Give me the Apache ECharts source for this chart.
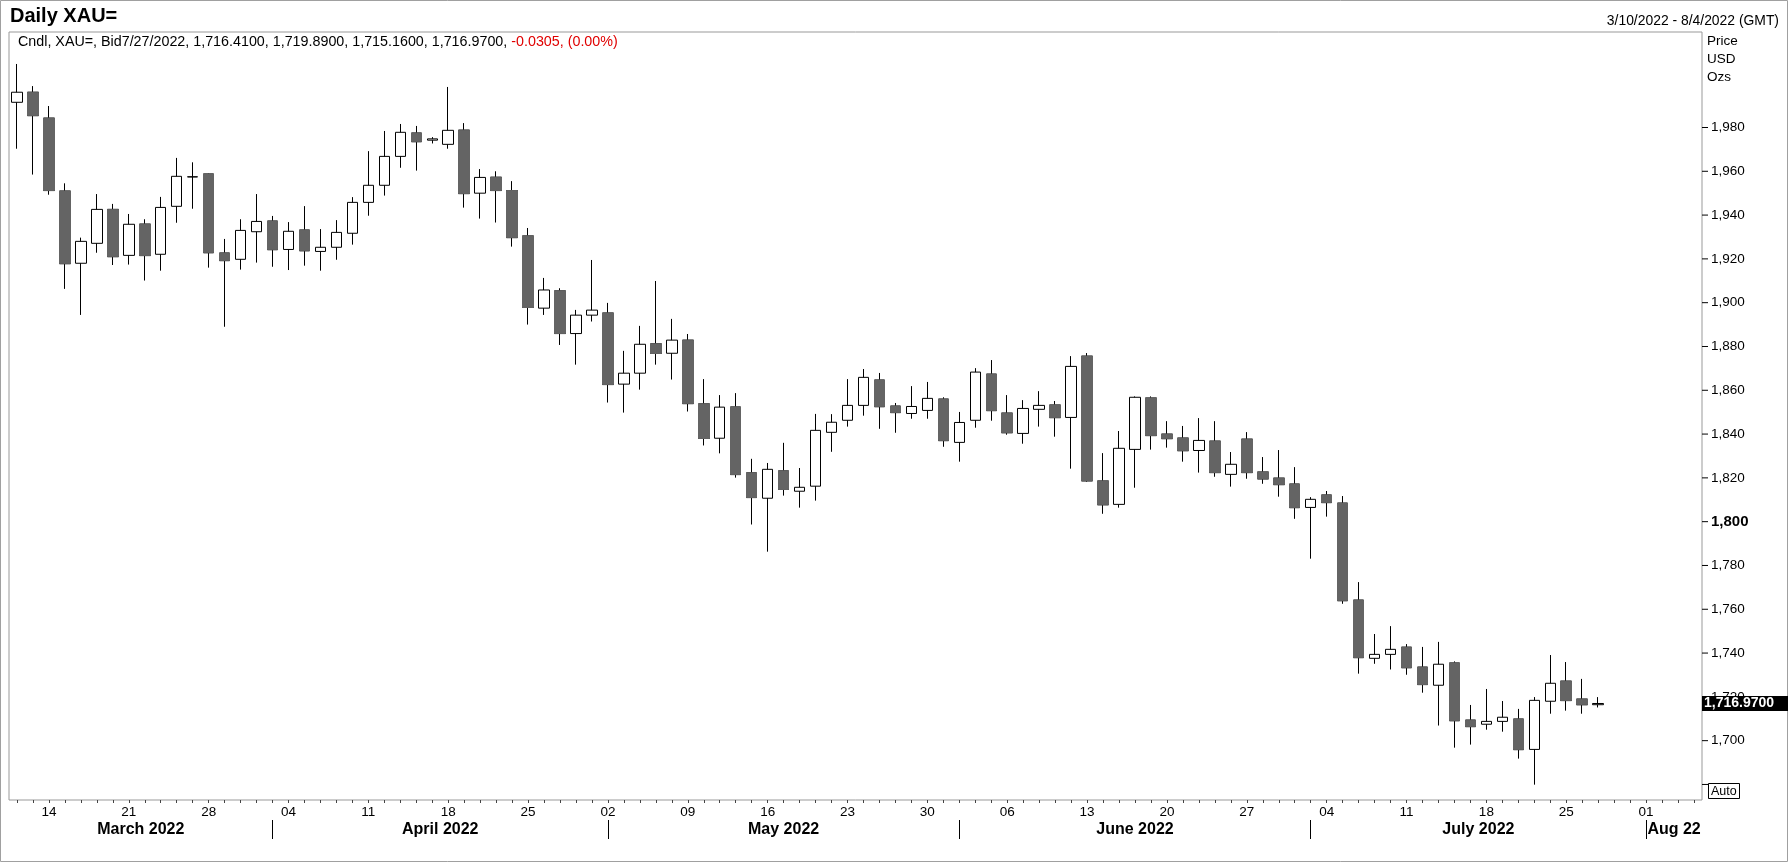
<!DOCTYPE html>
<html>

<head>
    <meta charset="utf-8">
    <title>Daily XAU=</title>
    <script src="https://cdn.jsdelivr.net/npm/echarts@6.0.0/dist/echarts.min.js"></script>
    <style>
        html, body { margin: 0; padding: 0; background: #fff; }
        #main { width: 1788px; height: 862px; }
    </style>
</head>

<body>
    <div id="main"></div>
</body>
<script>
    // trading days on the axis (data runs to 7/27, axis to 8/4)
    var dates = [
        '2022-03-10', '2022-03-11',
        '2022-03-14', '2022-03-15', '2022-03-16', '2022-03-17', '2022-03-18',
        '2022-03-21', '2022-03-22', '2022-03-23', '2022-03-24', '2022-03-25',
        '2022-03-28', '2022-03-29', '2022-03-30', '2022-03-31', '2022-04-01',
        '2022-04-04', '2022-04-05', '2022-04-06', '2022-04-07', '2022-04-08',
        '2022-04-11', '2022-04-12', '2022-04-13', '2022-04-14', '2022-04-15',
        '2022-04-18', '2022-04-19', '2022-04-20', '2022-04-21', '2022-04-22',
        '2022-04-25', '2022-04-26', '2022-04-27', '2022-04-28', '2022-04-29',
        '2022-05-02', '2022-05-03', '2022-05-04', '2022-05-05', '2022-05-06',
        '2022-05-09', '2022-05-10', '2022-05-11', '2022-05-12', '2022-05-13',
        '2022-05-16', '2022-05-17', '2022-05-18', '2022-05-19', '2022-05-20',
        '2022-05-23', '2022-05-24', '2022-05-25', '2022-05-26', '2022-05-27',
        '2022-05-30', '2022-05-31', '2022-06-01', '2022-06-02', '2022-06-03',
        '2022-06-06', '2022-06-07', '2022-06-08', '2022-06-09', '2022-06-10',
        '2022-06-13', '2022-06-14', '2022-06-15', '2022-06-16', '2022-06-17',
        '2022-06-20', '2022-06-21', '2022-06-22', '2022-06-23', '2022-06-24',
        '2022-06-27', '2022-06-28', '2022-06-29', '2022-06-30', '2022-07-01',
        '2022-07-04', '2022-07-05', '2022-07-06', '2022-07-07', '2022-07-08',
        '2022-07-11', '2022-07-12', '2022-07-13', '2022-07-14', '2022-07-15',
        '2022-07-18', '2022-07-19', '2022-07-20', '2022-07-21', '2022-07-22',
        '2022-07-25', '2022-07-26', '2022-07-27', '2022-07-28', '2022-07-29',
        '2022-08-01', '2022-08-02', '2022-08-03', '2022-08-04'
    ];

    var opens = [
        1991.5, 1996.1,
        1984.3, 1951.0, 1918.0, 1927.1, 1942.6,
        1921.6, 1935.9, 1922.1, 1944.0, 1957.4,
        1958.8, 1922.7, 1919.8, 1932.4, 1937.3,
        1924.3, 1933.2, 1923.4, 1925.3, 1931.7,
        1945.8, 1953.6, 1966.8, 1977.5, 1974.2,
        1972.3, 1978.8, 1950.0, 1957.3, 1951.2,
        1930.5, 1897.5, 1905.4, 1885.9, 1894.3,
        1895.3, 1862.8, 1867.8, 1881.2, 1876.9,
        1882.9, 1853.8, 1838.1, 1852.4, 1822.3,
        1810.7, 1823.2, 1813.9, 1816.2, 1840.8,
        1846.3, 1853.1, 1864.7, 1852.8, 1849.4,
        1850.8, 1856.0, 1836.2, 1846.3, 1867.4,
        1849.6, 1840.3, 1851.3, 1853.3, 1847.6,
        1875.6, 1818.6, 1807.9, 1833.0, 1856.5,
        1840.0, 1838.2, 1832.5, 1836.8, 1821.6,
        1837.7, 1822.7, 1819.9, 1817.2, 1806.5,
        1812.2, 1808.5, 1764.2, 1737.6, 1739.4,
        1742.7, 1733.6, 1725.3, 1735.5, 1709.4,
        1707.5, 1708.8, 1709.9, 1696.0, 1718.0,
        1727.2, 1719.0, 1716.41
    ];

    var highs = [
        2009.0, 1998.9,
        1989.8, 1954.5, 1929.7, 1949.6, 1945.1,
        1940.5, 1938.1, 1948.3, 1966.1, 1964.1,
        1959.0, 1929.1, 1938.1, 1949.6, 1939.6,
        1936.8, 1944.1, 1933.6, 1937.7, 1948.2,
        1969.2, 1978.4, 1981.6, 1980.7, 1975.6,
        1998.5, 1982.0, 1961.0, 1960.0, 1955.5,
        1934.1, 1911.3, 1906.6, 1896.7, 1919.5,
        1899.9, 1878.0, 1889.4, 1909.9, 1892.6,
        1885.7, 1865.1, 1857.8, 1858.7, 1828.7,
        1826.8, 1836.0, 1824.5, 1849.2, 1849.1,
        1865.1, 1869.7, 1867.9, 1854.2, 1861.9,
        1863.8, 1856.8, 1850.1, 1870.1, 1873.8,
        1857.8, 1855.5, 1859.6, 1855.1, 1875.6,
        1877.0, 1831.3, 1841.4, 1857.2, 1857.2,
        1845.9, 1843.7, 1847.3, 1845.9, 1831.8,
        1840.9, 1829.5, 1832.7, 1824.9, 1811.2,
        1814.0, 1811.7, 1772.4, 1748.7, 1752.3,
        1744.1, 1742.8, 1745.1, 1736.2, 1716.3,
        1723.6, 1718.1, 1714.5, 1719.9, 1739.1,
        1735.9, 1728.2, 1719.89
    ];

    var lows = [
        1970.3, 1958.5,
        1949.3, 1906.3, 1894.4, 1922.8, 1917.2,
        1917.4, 1910.1, 1914.6, 1936.5, 1942.9,
        1916.0, 1889.0, 1915.1, 1918.3, 1916.4,
        1914.9, 1916.9, 1914.6, 1919.6, 1926.5,
        1939.7, 1948.9, 1961.6, 1960.3, 1972.7,
        1970.3, 1943.4, 1938.4, 1936.6, 1925.6,
        1890.0, 1894.4, 1880.7, 1871.7, 1891.4,
        1854.4, 1849.8, 1860.3, 1871.7, 1864.9,
        1850.3, 1834.8, 1831.2, 1820.1, 1798.7,
        1786.3, 1811.9, 1806.4, 1809.6, 1831.9,
        1843.4, 1848.4, 1842.4, 1840.6, 1847.0,
        1847.0, 1834.2, 1827.4, 1842.9, 1846.1,
        1839.7, 1835.6, 1843.4, 1838.8, 1824.2,
        1818.2, 1803.6, 1806.4, 1815.5, 1832.9,
        1833.8, 1827.4, 1822.4, 1820.5, 1816.0,
        1819.6, 1817.3, 1811.4, 1801.3, 1783.1,
        1802.3, 1762.5, 1730.6, 1735.1, 1732.5,
        1730.1, 1721.9, 1706.9, 1696.8, 1698.2,
        1705.0, 1704.1, 1691.8, 1679.9, 1712.3,
        1713.7, 1712.3, 1715.16
    ];

    var closes = [
        1996.1, 1985.4,
        1951.2, 1917.8, 1928.0, 1942.6, 1921.0,
        1935.8, 1921.5, 1943.5, 1957.7, 1957.5,
        1922.8, 1919.2, 1933.0, 1937.1, 1924.2,
        1932.6, 1923.7, 1925.3, 1932.1, 1945.8,
        1953.6, 1966.8, 1977.8, 1973.5, 1974.8,
        1978.7, 1949.8, 1957.2, 1951.2, 1929.7,
        1897.8, 1905.8, 1885.9, 1894.3, 1896.6,
        1862.6, 1867.8, 1881.0, 1876.8, 1882.9,
        1853.9, 1838.0, 1852.3, 1821.5, 1811.0,
        1823.9, 1814.7, 1815.7, 1841.7, 1845.4,
        1853.1, 1865.9, 1852.5, 1849.8, 1852.6,
        1856.3, 1837.0, 1845.3, 1868.3, 1850.7,
        1840.6, 1851.7, 1853.1, 1847.5, 1870.9,
        1818.6, 1807.7, 1833.5, 1856.8, 1839.3,
        1837.9, 1832.4, 1837.1, 1822.4, 1826.2,
        1822.4, 1819.5, 1816.9, 1806.4, 1810.2,
        1808.7, 1763.9, 1737.9, 1739.4, 1741.7,
        1733.3, 1725.6, 1734.9, 1709.1, 1706.4,
        1708.8, 1710.7, 1695.9, 1718.4, 1726.2,
        1718.3, 1716.4, 1716.97
    ];

    // bottom axis: weekly labels (Mondays) and month bands
    var weekTicks = [
        '2022-03-14', '2022-03-21', '2022-03-28', '2022-04-04', '2022-04-11',
        '2022-04-18', '2022-04-25', '2022-05-02', '2022-05-09', '2022-05-16',
        '2022-05-23', '2022-05-30', '2022-06-06', '2022-06-13', '2022-06-20',
        '2022-06-27', '2022-07-04', '2022-07-11', '2022-07-18', '2022-07-25',
        '2022-08-01'
    ];
    var monthStarts = ['2022-04-01', '2022-05-02', '2022-06-01', '2022-07-01', '2022-08-01'];
    var monthNames = ['March 2022', 'April 2022', 'May 2022', 'June 2022', 'July 2022', 'Aug 22'];

    // price axis: 1680 gets a tick mark only (the Auto button sits there)
    var priceTicks = [1680, 1700, 1720, 1740, 1760, 1780, 1800, 1820, 1840, 1860, 1880, 1900, 1920, 1940, 1960, 1980];
    var priceLabels = [1700, 1720, 1740, 1760, 1780, 1800, 1820, 1840, 1860, 1880, 1900, 1920, 1940, 1960, 1980];
    var boldPrice = 1800;

    var changeText = '-0.0305, (0.00%)';
    var rangeText = '3/10/2022 - 8/4/2022 (GMT)';

    var FONT = '"Liberation Sans", Arial, sans-serif';
    var DOWN = '#646464';
    var Y_MIN = 1672.9, Y_MAX = 2023.6;

    function fmt(v, d) {
        return Number(v).toLocaleString('en-US', { minimumFractionDigits: d, maximumFractionDigits: d });
    }

    var candles = opens.map(function (o, i) {
        return [o, closes[i], lows[i], highs[i]];
    });
    // gray bodies painted again over the black outline of falling candles
    var downBodies = opens.map(function (o, i) {
        return closes[i] < o ? [o, closes[i], closes[i], o] : '-';
    });

    var monthStartIdx = monthStarts.map(function (d) { return dates.indexOf(d); });
    var bounds = [-0.5].concat(monthStartIdx).concat([dates.length - 0.5]);
    var monthCenters = [];
    for (var k = 0; k < monthNames.length; k++) {
        monthCenters.push((bounds[k] + bounds[k + 1]) / 2);
    }

    var n = closes.length - 1;
    var lastDate = dates[n].split('-');
    var legendMain = 'Cndl, XAU=, Bid' + (+lastDate[1]) + '/' + (+lastDate[2]) + '/' + lastDate[0] + ', ' +
        fmt(opens[n], 4) + ', ' + fmt(highs[n], 4) + ', ' + fmt(lows[n], 4) + ', ' + fmt(closes[n], 4) + ', ';

    var chart = echarts.init(document.getElementById('main'), null, { renderer: 'canvas' });

    var option = {
        backgroundColor: '#fff',
        animation: false,
        textStyle: { fontFamily: FONT },
        grid: {
            left: 9, right: 86, top: 32, bottom: 62,
            show: true, borderColor: '#999', borderWidth: 1,
            containLabel: false, outerBoundsMode: 'none'
        },
        xAxis: [
            {
                type: 'category',
                data: dates,
                boundaryGap: true,
                axisLine: { show: false, onZero: false },
                axisTick: { show: true, interval: 0, alignWithLabel: true, length: 3, lineStyle: { color: '#444' } },
                axisLabel: {
                    interval: function (i, v) { return weekTicks.indexOf(v) >= 0; },
                    formatter: function (v) { return v.slice(8); },
                    color: '#000', fontSize: 13.5, fontFamily: FONT, margin: 5
                },
                splitLine: { show: false }
            },
            {
                type: 'value',
                position: 'bottom',
                offset: 20,
                min: -0.5,
                max: dates.length - 0.5,
                axisLine: { show: false, onZero: false },
                splitLine: { show: false },
                axisTick: {
                    show: true, length: 19, customValues: monthStartIdx,
                    lineStyle: { color: '#000', width: 1 }
                },
                axisLabel: {
                    customValues: monthCenters,
                    formatter: function (v) {
                        for (var j = 0; j < monthCenters.length; j++) {
                            if (Math.abs(monthCenters[j] - v) < 0.01) return monthNames[j];
                        }
                        return '';
                    },
                    color: '#000', fontSize: 16, fontWeight: 'bold', fontFamily: FONT, margin: 2
                }
            }
        ],
        yAxis: [
            {
                type: 'value',
                position: 'right',
                min: Y_MIN,
                max: Y_MAX,
                axisLine: { show: false, onZero: false },
                splitLine: { show: false },
                axisTick: { show: false },
                axisLabel: {
                    customValues: priceTicks,
                    margin: 0,
                    color: '#000',
                    fontSize: 13.5,
                    fontFamily: FONT,
                    // short dash in front of each label stands in for the tick mark
                    formatter: function (v) {
                        if (priceLabels.indexOf(v) < 0) return '{t| }';
                        return '{t| }' + (v === boldPrice ? '{b|' + fmt(v, 0) + '}' : '{n|' + fmt(v, 0) + '}');
                    },
                    rich: {
                        t: {
                            width: 6, height: 1, lineHeight: 16, fontSize: 4,
                            backgroundColor: '#000', verticalAlign: 'middle'
                        },
                        n: { fontSize: 13.5, color: '#000', fontFamily: FONT, padding: [0, 0, 0, 3], verticalAlign: 'middle' },
                        b: { fontWeight: 'bold', fontSize: 15, color: '#000', fontFamily: FONT, padding: [0, 0, 0, 3], verticalAlign: 'middle' }
                    }
                }
            },
            {
                // last-price tag on the price scale
                type: 'value',
                position: 'right',
                min: Y_MIN,
                max: Y_MAX,
                z: 5,
                axisLine: { show: false, onZero: false },
                splitLine: { show: false },
                axisTick: { show: false },
                axisLabel: {
                    customValues: [closes[n]],
                    margin: 0,
                    formatter: function (v) { return fmt(v, 4); },
                    backgroundColor: '#000',
                    color: '#fff',
                    fontWeight: 'bold',
                    fontSize: 14,
                    fontFamily: FONT,
                    padding: [1, 19, 0, 2]
                }
            }
        ],
        series: [
            {
                name: 'XAU=',
                type: 'candlestick',
                data: candles,
                barWidth: 11,
                silent: true,
                itemStyle: {
                    color: '#fff', color0: DOWN,
                    borderColor: '#000', borderColor0: '#000',
                    borderWidth: 1
                }
            },
            {
                name: 'bodies',
                type: 'candlestick',
                data: downBodies,
                barWidth: 11,
                silent: true,
                itemStyle: {
                    color: '#fff', color0: DOWN,
                    borderColor: '#000', borderColor0: DOWN,
                    borderWidth: 1
                }
            }
        ],
        graphic: [
            {
                type: 'rect', silent: true,
                shape: { x: 0.5, y: 0.5, width: 1787, height: 861 },
                style: { fill: null, stroke: '#a0a0a0', lineWidth: 1 }
            },
            {
                type: 'text', left: 10, top: 6, silent: true,
                style: { text: 'Daily XAU=', font: 'bold 20px ' + FONT, fill: '#000' }
            },
            {
                type: 'text', right: 9, top: 14, silent: true,
                style: { text: rangeText, font: '13.9px ' + FONT, fill: '#000' }
            },
            {
                type: 'text', left: 18, top: 35, silent: true,
                style: {
                    text: '{a|' + legendMain + '}{r|' + changeText + '}',
                    rich: {
                        a: { fontSize: 14.3, fontFamily: FONT, fill: '#000' },
                        r: { fontSize: 14.3, fontFamily: FONT, fill: '#e00000' }
                    }
                }
            },
            {
                type: 'text', left: 1707, top: 32, silent: true,
                style: { text: 'Price\nUSD\nOzs', font: '13.5px ' + FONT, fill: '#000', lineHeight: 18 }
            },
            {
                type: 'group', left: 1708, top: 783, silent: true,
                children: [
                    {
                        type: 'rect',
                        shape: { x: 0.5, y: 0.5, width: 31, height: 15 },
                        style: { fill: '#fff', stroke: '#000', lineWidth: 1 }
                    },
                    {
                        type: 'text', x: 3, y: 2,
                        style: { text: 'Auto', font: '12.5px ' + FONT, fill: '#000' }
                    }
                ]
            }
        ]
    };

    chart.setOption(option);
</script>

</html>
